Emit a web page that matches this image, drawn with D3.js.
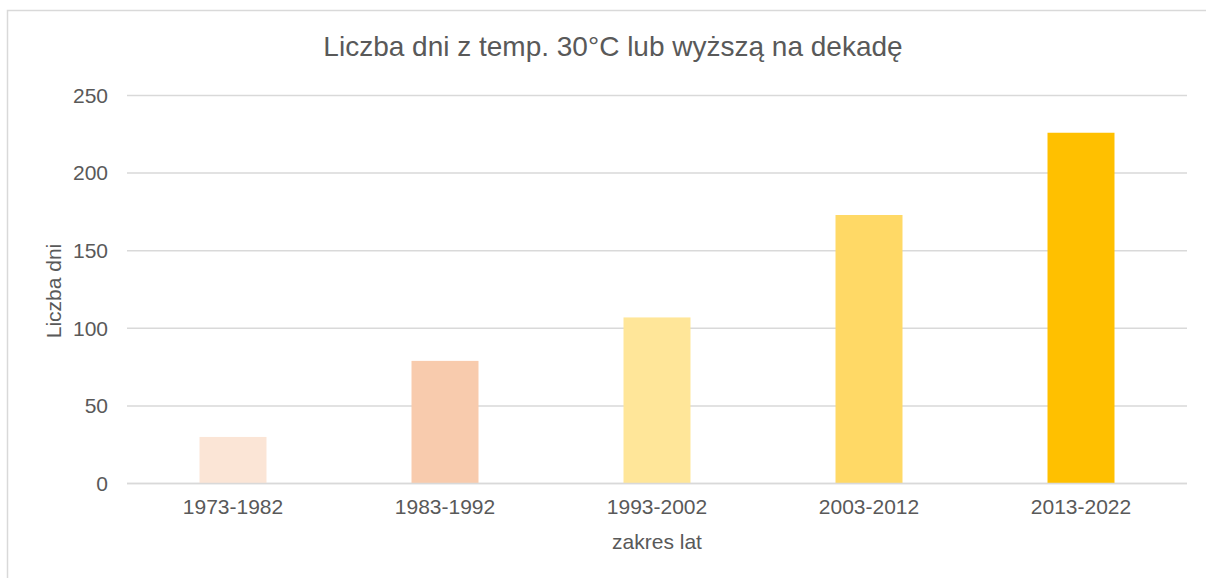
<!DOCTYPE html>
<html>
<head>
<meta charset="utf-8">
<script src="https://cdn.jsdelivr.net/npm/d3@7"></script>
<style>
  body { margin: 0; background: #fff; }
  text { font-family: "Liberation Sans", Arial, sans-serif; fill: #595959; }
</style>
</head>
<body>
<svg id="chart" width="1206" height="578"></svg>
<script>
var decades = ['1973-1982', '1983-1992', '1993-2002', '2003-2012', '2013-2022'];
var days = [30, 79, 107, 173, 226];
var colors = ['#FBE5D6', '#F8CBAD', '#FFE699', '#FFD966', '#FFC000'];
var yTicks = [0, 50, 100, 150, 200, 250];

var margin = {left: 127, right: 19, top: 95.5, bottom: 94.5};
var W = 1206, H = 578;

var svg = d3.select('#chart');

// chart area frame (runs off right and bottom edges)
svg.append('rect')
  .attr('x', 7.5).attr('y', 10.5)
  .attr('width', 1230).attr('height', 600)
  .attr('fill', 'none')
  .attr('stroke', '#d9d9d9')
  .attr('stroke-width', 1.5);

var x = d3.scaleBand()
  .domain(decades)
  .range([margin.left, W - margin.right])
  .paddingInner(0.684)
  .paddingOuter(0.342);

var y = d3.scaleLinear()
  .domain([0, 250])
  .range([H - margin.bottom, margin.top]);

// gridlines
svg.append('g')
  .selectAll('line.grid')
  .data(yTicks)
  .enter()
  .append('line')
  .classed('grid', true)
  .attr('x1', margin.left)
  .attr('x2', W - margin.right)
  .attr('y1', function(d) { return y(d); })
  .attr('y2', function(d) { return y(d); })
  .attr('stroke', '#d9d9d9')
  .attr('stroke-width', 1.5);

// bars
svg.append('g')
  .selectAll('rect.bar')
  .data(days)
  .enter()
  .append('rect')
  .classed('bar', true)
  .attr('x', function(d, i) { return x(decades[i]); })
  .attr('width', x.bandwidth())
  .attr('y', function(d) { return y(d); })
  .attr('height', function(d) { return y(0) - y(d); })
  .attr('fill', function(d, i) { return colors[i]; });

// zero line on top of bars
svg.append('line')
  .attr('x1', margin.left).attr('x2', W - margin.right)
  .attr('y1', y(0)).attr('y2', y(0))
  .attr('stroke', '#d9d9d9')
  .attr('stroke-width', 1.5);

// y axis
var yAxis = svg.append('g')
  .attr('transform', 'translate(' + (margin.left - 19) + ',0)')
  .call(d3.axisLeft(y).tickValues(yTicks).tickSize(0).tickPadding(0));
yAxis.select('.domain').remove();
yAxis.selectAll('text')
  .attr('font-size', '21px')
  .style('font-family', '"Liberation Sans", Arial, sans-serif')
  .attr('fill', '#595959');

// x axis
var xAxis = svg.append('g')
  .attr('transform', 'translate(0,' + y(0) + ')')
  .call(d3.axisBottom(x).tickSize(0).tickPadding(16));
xAxis.select('.domain').remove();
xAxis.selectAll('text')
  .attr('font-size', '21px')
  .style('font-family', '"Liberation Sans", Arial, sans-serif')
  .attr('fill', '#595959');

// title
svg.append('text')
  .attr('x', 613)
  .attr('y', 56)
  .attr('text-anchor', 'middle')
  .attr('font-size', '28px')
  .text('Liczba dni z temp. 30°C lub wyższą na dekadę');

// axis titles
svg.append('text')
  .attr('x', 657)
  .attr('y', 549)
  .attr('text-anchor', 'middle')
  .attr('font-size', '21px')
  .text('zakres lat');

svg.append('text')
  .attr('transform', 'translate(61,291) rotate(-90)')
  .attr('text-anchor', 'middle')
  .attr('font-size', '21px')
  .text('Liczba dni');
</script>
</body>
</html>
